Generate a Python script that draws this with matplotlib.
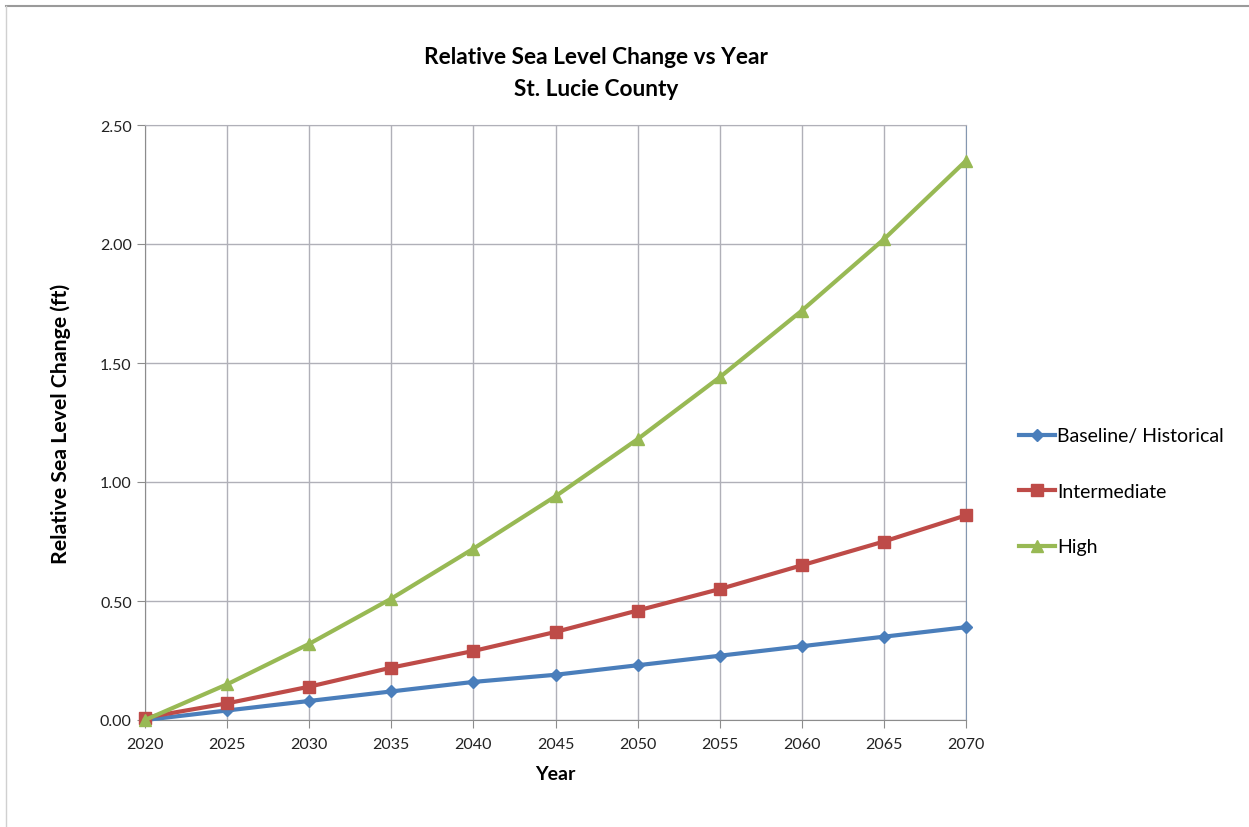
import matplotlib
matplotlib.use("Agg")
import matplotlib.pyplot as plt
from matplotlib.lines import Line2D

# data
years = [2020, 2025, 2030, 2035, 2040, 2045, 2050, 2055, 2060, 2065, 2070]
baseline = [0.00, 0.04, 0.08, 0.12, 0.16, 0.19, 0.23, 0.27, 0.31, 0.35, 0.39]
intermediate = [0.01, 0.07, 0.14, 0.22, 0.29, 0.37, 0.46, 0.55, 0.65, 0.75, 0.86]
high = [0.00, 0.15, 0.32, 0.51, 0.72, 0.94, 1.18, 1.44, 1.72, 2.02, 2.35]
series_names = ["Baseline/ Historical", "Intermediate", "High"]
y_ticks = [0.0, 0.5, 1.0, 1.5, 2.0, 2.5]

plt.rcParams['font.family'] = ['Lato', 'DejaVu Sans']

fig = plt.figure(figsize=(12.49, 8.28), dpi=100)
ax = fig.add_axes([145/1249, 107/828, 821/1249, 595/828])

ax.plot(years, baseline, color='#4a7ebb', lw=3, marker='D', ms=6,
        label=series_names[0], clip_on=False, zorder=3)
ax.plot(years, intermediate, color='#be4b48', lw=3, marker='s', ms=8,
        label=series_names[1], clip_on=False, zorder=4)
ax.plot(years, high, color='#98b954', lw=3, marker='^', ms=8,
        label=series_names[2], clip_on=False, zorder=5)

ax.set_xlim(2020, 2070)
ax.set_ylim(0, 2.5)
ax.set_xticks(years)
ax.set_yticks(y_ticks)
ax.set_yticklabels(["%.2f" % v for v in y_ticks])
ax.grid(True, color='#b0b0b8', lw=1)
ax.set_axisbelow(True)
for s in ['left', 'bottom']:
    ax.spines[s].set_color('#8c8c8c')
ax.spines['right'].set_color('#8497b0')
ax.spines['top'].set_color('#b0b0b8')
ax.tick_params(direction='out', length=6, color='#8c8c8c', labelsize=11.5,
               labelcolor='#222222')
ax.tick_params(axis='x', pad=6)

ax.set_xlabel("Year", fontsize=14, fontweight='bold', labelpad=10)
ax.set_ylabel("Relative Sea Level Change (ft)", fontsize=15.3,
              fontweight='bold', labelpad=21)

fig.text(596/1249, 1 - 57/828, "Relative Sea Level Change vs Year",
         ha='center', va='center', fontsize=16.3, fontweight='bold')
fig.text(596/1249, 1 - 89/828, "St. Lucie County",
         ha='center', va='center', fontsize=16.3, fontweight='bold')

leg = fig.legend(loc='upper left', bbox_to_anchor=(1001/1249, 1 - 411/828),
                 frameon=False, fontsize=14, handlelength=1.9,
                 handletextpad=0.1, labelspacing=1.98)

# thin grey frame on the top and left edge of the image
fig.add_artist(Line2D([6/1249, 1], [1 - 6.5/828, 1 - 6.5/828],
                      transform=fig.transFigure, color='#9a9a9a', lw=1.5))
fig.add_artist(Line2D([6/1249, 6/1249], [0, 1 - 6.5/828],
                      transform=fig.transFigure, color='#d0d0d0', lw=1))

fig.savefig("out.png", dpi=100)
